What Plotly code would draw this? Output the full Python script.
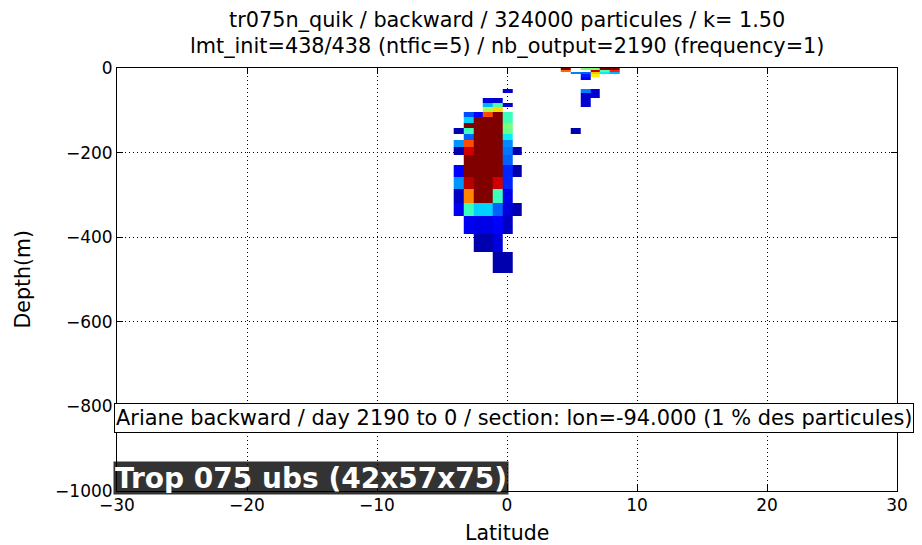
import numpy as np
import plotly.graph_objects as go

# ---- data ----
lat_edges = [-4.1, -3.35, -2.6, -1.85, -1.1, -0.35, 0.4, 1.15, 1.9, 2.65, 3.4,
             4.15, 4.9, 5.65, 6.4, 7.15, 7.9, 8.65]
depth_edges = [0, 5, 10, 15, 21, 28, 36, 43, 50, 60, 71, 82, 93, 104, 116, 129,
               142, 156, 171, 187, 205, 230, 257, 287, 318, 351, 392, 434, 485]

# cells: column index (lat), row index (depth), normalised density
cell_col = [11, 13, 14, 15, 16,
            11, 14, 15, 16,
            12, 13, 14, 15, 16,
            13, 14,
            13,
            5, 13, 14,
            13, 14,
            3, 4, 13,
            3, 4, 5, 13,
            3, 4,
            1, 2, 3, 4, 5,
            1, 2, 3, 4, 5,
            1, 2, 3, 4, 5,
            0, 1, 2, 3, 4, 5, 12,
            1, 2, 3, 4, 5,
            0, 1, 2, 3, 4, 5,
            0, 1, 2, 3, 4, 5, 6,
            1, 2, 3, 4, 5,
            0, 1, 2, 3, 4, 5, 6,
            0, 1, 2, 3, 4, 5,
            0, 1, 2, 3, 4, 5,
            0, 1, 2, 3, 4, 5, 6,
            1, 2, 3, 4, 5,
            2, 3, 4,
            4, 5]
cell_row = [0, 0, 0, 0, 0,
            1, 1, 1, 1,
            2, 2, 2, 2, 2,
            3, 3,
            4,
            8, 8, 8,
            9, 9,
            10, 10, 10,
            11, 11, 11, 11,
            12, 12,
            13, 13, 13, 13, 13,
            14, 14, 14, 14, 14,
            15, 15, 15, 15, 15,
            16, 16, 16, 16, 16, 16, 16,
            17, 17, 17, 17, 17,
            18, 18, 18, 18, 18, 18,
            19, 19, 19, 19, 19, 19, 19,
            20, 20, 20, 20, 20,
            21, 21, 21, 21, 21, 21, 21,
            22, 22, 22, 22, 22, 22,
            23, 23, 23, 23, 23, 23,
            24, 24, 24, 24, 24, 24, 24,
            25, 25, 25, 25, 25,
            26, 26, 26,
            27, 27]
cell_val = [1.0, 0.5, 0.5, 1.0, 1.0,
            0.8, 0.93, 0.45, 0.88,
            0.25, 0.22, 0.7, 0.36, 0.3,
            0.15, 0.65,
            0.12,
            0.07, 0.25, 0.07,
            0.07, 0.07,
            0.08, 0.07, 0.07,
            0.3, 0.45, 0.07, 0.07,
            0.55, 0.68,
            0.2, 0.12, 0.83, 1.0, 0.42,
            0.33, 1.0, 1.0, 1.0, 0.43,
            1.0, 1.0, 1.0, 1.0, 0.5,
            0.04, 0.42, 1.0, 1.0, 1.0, 0.48, 0.04,
            0.22, 1.0, 1.0, 1.0, 0.36,
            0.27, 0.83, 1.0, 1.0, 1.0, 0.26,
            0.04, 0.93, 1.0, 1.0, 1.0, 0.24, 0.04,
            1.0, 1.0, 1.0, 1.0, 0.22,
            0.12, 1.0, 1.0, 1.0, 1.0, 0.16, 0.04,
            0.27, 0.95, 1.0, 1.0, 0.93, 0.16,
            0.06, 0.77, 1.0, 1.0, 0.42, 0.09,
            0.1, 0.42, 0.33, 0.33, 0.22, 0.08, 0.04,
            0.1, 0.09, 0.09, 0.12, 0.06,
            0.04, 0.04, 0.08,
            0.04, 0.04]

x_ticks = [-30, -20, -10, 0, 10, 20, 30]
x_labels = ["\u221230", "\u221220", "\u221210", "0", "10", "20", "30"]
y_ticks = [0, -200, -400, -600, -800, -1000]
y_labels = ["0", "\u2212200", "\u2212400", "\u2212600", "\u2212800", "\u22121000"]

title_line1 = "tr075n_quik / backward / 324000 particules / k= 1.50"
title_line2 = "lmt_init=438/438 (ntfic=5) / nb_output=2190 (frequency=1)"
x_title = "Latitude"
y_title = "Depth(m)"
info_text = "Ariane backward / day 2190 to 0 / section: lon=-94.000 (1 % des particules)"
tag_text = "Trop 075 ubs (42x57x75)"

# ---- build grid ----
ncol = len(lat_edges) - 1
nrow = len(depth_edges) - 1
z = [[None] * ncol for _ in range(nrow)]
for c, r, v in zip(cell_col, cell_row, cell_val):
    z[nrow - 1 - r][c] = v
y_edges = [-d for d in reversed(depth_edges)]

# matplotlib jet colormap
pos = np.linspace(0, 1, 101)
rr = np.interp(pos, [0, 0.35, 0.66, 0.89, 1], [0, 0, 1, 1, 0.5])
gg = np.interp(pos, [0, 0.125, 0.375, 0.64, 0.91, 1], [0, 0, 1, 1, 0, 0])
bb = np.interp(pos, [0, 0.11, 0.34, 0.65, 1], [0.5, 1, 1, 0, 0])
jet = [[float(p), "rgb(%d,%d,%d)" % (round(r * 255), round(g * 255), round(b * 255))]
       for p, r, g, b in zip(pos, rr, gg, bb)]

fig = go.Figure()
fig.add_trace(go.Heatmap(
    x=lat_edges, y=y_edges, z=z, colorscale=jet, zmin=0, zmax=1,
    showscale=False, hoverinfo="skip"))

font = "DejaVu Sans"
axis_common = dict(
    showline=True, mirror="ticks", linecolor="black", linewidth=1,
    ticks="inside", ticklen=6, tickcolor="black",
    showgrid=True, gridcolor="black", gridwidth=1, griddash="1px,3px",
    zeroline=False, automargin=False,
    tickfont=dict(family=font, size=17, color="black"),
)

# page is rendered with an 8px body margin: plot area at page x 117..897, y 68..491
fig.update_layout(
    width=914, height=537,
    margin=dict(l=109, r=25, t=60, b=54, autoexpand=False),
    paper_bgcolor="white", plot_bgcolor="white",
    xaxis=dict(range=[-30, 30], tickvals=x_ticks, ticktext=x_labels,
               ticklabelstandoff=-1, **axis_common),
    yaxis=dict(range=[-1000, 0], tickvals=y_ticks, ticktext=y_labels, **axis_common),
    showlegend=False,
)

H = 423.0  # plot height in px
W = 780.0  # plot width in px


def py(px):
    return (491 - px) / H


def pxx(px):
    return (px - 117) / W


tfont = dict(family=font, size=20.8, color="black")
fig.add_annotation(text=title_line1, xref="paper", yref="paper", x=0.5, y=py(20),
                   xanchor="center", yanchor="middle", showarrow=False, font=tfont)
fig.add_annotation(text=title_line2, xref="paper", yref="paper", x=0.5, y=py(46.5),
                   xanchor="center", yanchor="middle", showarrow=False, font=tfont)
fig.add_annotation(text=x_title, xref="paper", yref="paper", x=0.5, y=py(533),
                   xanchor="center", yanchor="middle", showarrow=False,
                   font=dict(family=font, size=20.5, color="black"))
fig.add_annotation(text=y_title, xref="paper", yref="paper", x=pxx(22), y=0.5,
                   xanchor="center", yanchor="middle", showarrow=False,
                   font=dict(family=font, size=20.5, color="black"), textangle=-90)

fig.add_annotation(
    text=info_text, xref="paper", yref="paper", x=pxx(114), y=py(417.5),
    xanchor="left", yanchor="middle", showarrow=False,
    font=dict(family=font, size=20.9, color="black"),
    bgcolor="white", bordercolor="black", borderwidth=1, borderpad=1, height=26)

fig.add_annotation(
    text="<b>" + tag_text + "</b>", xref="paper", yref="paper", x=pxx(113), y=py(478),
    xanchor="left", yanchor="middle", showarrow=False,
    font=dict(family=font, size=28, color="white"),
    bgcolor="rgba(0,0,0,0.8)", borderpad=1, height=30)

fig.write_html("out.html")
